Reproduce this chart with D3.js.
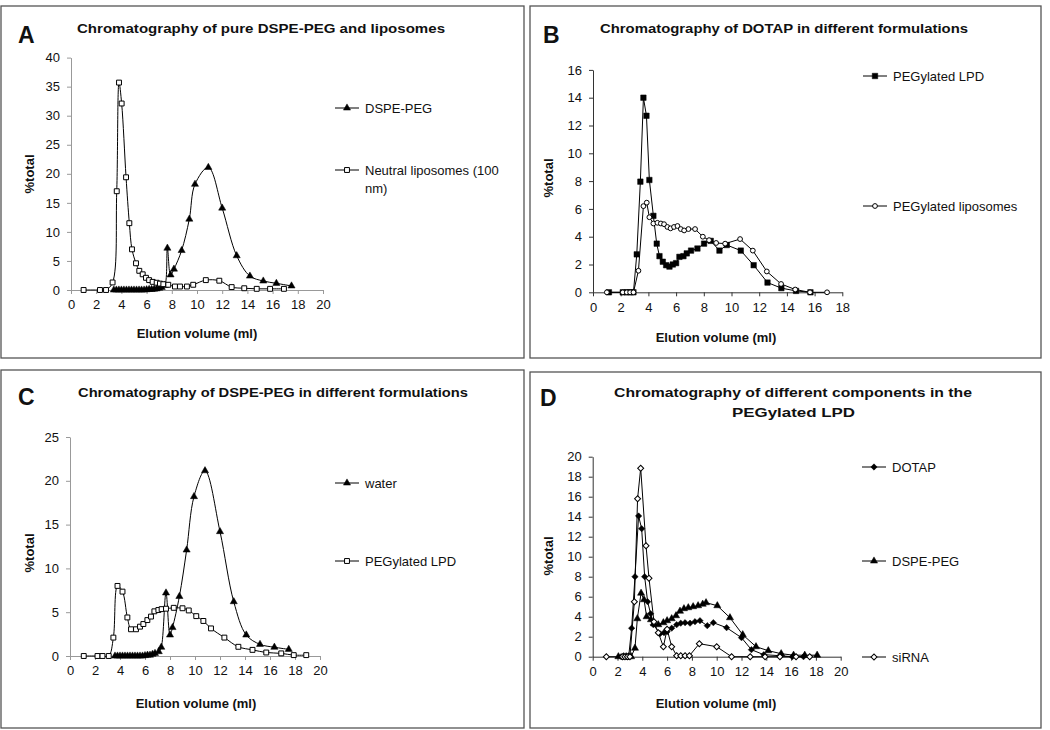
<!DOCTYPE html>
<html><head><meta charset="utf-8">
<script src="https://cdn.jsdelivr.net/npm/d3@7"></script>
<style>
body{margin:0;background:#fff;}
svg text{font-family:"Liberation Sans",Arial,sans-serif;fill:#111;}
</style>
</head><body>
<svg id="chart" width="1050" height="730"></svg>
<script>
// ---------- DATA ----------
// Panel A
const aTitle = "Chromatography of pure DSPE-PEG and liposomes";
const aXTicks = [0,2,4,6,8,10,12,14,16,18,20];
const aYTicks = [0,5,10,15,20,25,30,35,40];
const aPegX = [3.4,3.6,3.8,4.0,4.2,4.4,4.6,4.8,5.0,5.2,5.4,5.6,5.8,6.0,6.2,6.4,6.6,6.8,7.0,7.2,7.45,7.65,7.9,8.17,8.78,9.39,9.84,10.9,12.0,13.15,14.2,15.26,16.3,17.5];
const aPegY = [0,0,0,0,0,0,0,0,0,0,0,0,0,0.05,0.1,0.1,0.15,0.2,0.3,0.45,0.8,7.2,2.6,3.6,6.8,12.2,18.2,21.1,14.1,5.9,2.4,1.55,1.15,0.7];
const aLipX = [1,2.3,2.78,3.3,3.63,3.81,4.02,4.37,4.63,4.84,5.16,5.42,5.69,5.95,6.2,6.48,6.8,7.06,7.33,7.72,8.25,8.65,9.2,9.7,10.7,11.77,12.75,13.75,14.74,15.8,16.9];
const aLipY = [0,0,0,1.3,17.0,35.7,32.1,19.4,11.5,7.0,4.6,3.3,2.7,2.1,1.7,1.4,1.25,1.1,1.0,0.9,0.6,0.6,0.6,0.9,1.7,1.6,0.5,0.3,0.2,0.2,0.2];
const aLabels = ["DSPE-PEG", "Neutral liposomes (100|nm)"];

// Panel B
const bTitle = "Chromatography of DOTAP in different formulations";
const bXTicks = [0,2,4,6,8,10,12,14,16,18];
const bYTicks = [0,2,4,6,8,10,12,14,16];
const bLpdX = [1.15,2.15,2.44,2.68,2.92,3.16,3.42,3.64,3.86,4.07,4.36,4.6,4.8,5.04,5.28,5.52,5.76,6.0,6.24,6.53,6.77,7.08,7.54,8.02,8.5,9.13,9.66,10.67,11.6,12.6,13.6,14.66,15.7];
const bLpdY = [0,0,0,0,0,2.73,7.96,14.0,12.7,8.08,5.5,3.5,2.6,2.2,1.95,1.85,2.0,2.1,2.55,2.6,2.8,3.0,3.15,3.5,3.7,3.0,3.4,3.0,1.95,0.7,0.3,0.1,0];
const bLipX = [1.0,2.15,2.44,2.68,2.92,3.28,3.64,3.88,4.07,4.36,4.65,4.9,5.13,5.37,5.6,5.85,6.1,6.34,6.58,6.89,7.37,7.93,8.38,8.89,9.54,10.62,11.54,12.55,13.58,14.6,15.67,16.9];
const bLipY = [0,0,0,0,0,1.55,6.2,6.45,5.4,4.95,5.0,4.95,4.9,4.7,4.6,4.7,4.77,4.55,4.45,4.55,4.55,4.0,3.75,3.55,3.5,3.83,3.0,1.5,0.6,0.2,0,0];
const bLabels = ["PEGylated LPD", "PEGylated liposomes"];

// Panel C
const cTitle = "Chromatography of DSPE-PEG in different formulations";
const cXTicks = [0,2,4,6,8,10,12,14,16,18,20];
const cYTicks = [0,5,10,15,20,25];
const cWatX = [3.6,3.8,4.0,4.2,4.4,4.6,4.8,5.0,5.2,5.4,5.6,5.8,6.0,6.2,6.4,6.6,6.8,7.1,7.3,7.68,8.0,8.2,8.75,9.33,9.92,10.8,12.0,13.1,14.1,15.2,16.35,17.5];
const cWatY = [0,0,0,0,0,0,0,0,0,0,0,0,0.05,0.1,0.1,0.2,0.3,0.5,1.0,7.2,2.4,3.25,6.8,12.1,18.2,21.15,14.2,6.2,2.4,1.33,1.0,0.76];
const cLpdX = [1.1,2.2,2.6,3.1,3.47,3.8,4.2,4.59,4.88,5.28,5.6,5.87,6.19,6.48,6.75,7.07,7.33,7.68,8.3,9.0,9.5,10.1,10.67,11.28,12.35,13.47,14.6,15.7,16.9,17.9,18.9];
const cLpdY = [0,0,0,0,2.1,8.0,7.35,4.4,3.05,3.05,3.35,3.65,4.1,4.5,5.1,5.25,5.35,5.4,5.5,5.45,5.2,4.55,4.0,3.15,2.1,1.05,0.7,0.4,0.3,0.1,0.1];
const cLabels = ["water", "PEGylated LPD"];

// Panel D
const dTitle = ["Chromatography of different components in the", "PEGylated LPD"];
const dXTicks = [0,2,4,6,8,10,12,14,16,18,20];
const dYTicks = [0,2,4,6,8,10,12,14,16,18,20];
const dDotX = [2.3,2.5,2.7,2.9,3.14,3.41,3.7,3.95,4.19,4.43,4.67,4.89,5.43,5.75,6.0,6.37,6.77,7.1,7.45,7.85,8.25,8.65,9.24,9.73,10.8,12.0,12.8,13.8,15.1,16.1,17.0];
const dDotY = [0,0,0,0,2.85,8.0,14.07,12.8,8.0,5.5,4.3,3.2,2.3,2.4,2.5,2.85,3.2,3.35,3.4,3.35,3.5,3.6,3.1,3.4,2.9,1.9,0.7,0.2,0.1,0,0];
const dPegX = [2.07,2.5,2.7,2.9,3.1,3.41,3.6,3.9,4.14,4.35,4.7,4.94,5.29,5.7,6.0,6.37,6.72,7.04,7.36,7.71,8.1,8.5,8.87,9.14,10.05,11.07,12.1,13.17,14.16,15.2,16.2,17.1,18.1];
const dPegY = [0,0,0,0,0,0.85,3.8,6.35,5.7,4.0,3.7,3.3,3.2,3.4,3.6,3.8,4.1,4.55,4.8,4.9,5.0,5.1,5.25,5.4,5.1,3.9,2.2,1.0,0.6,0.3,0.15,0.15,0.15];
const dSiX = [1.1,2.4,2.6,2.8,3.0,3.36,3.62,3.87,4.3,4.54,4.94,5.29,5.7,6.0,6.37,6.77,7.1,7.45,7.8,8.6,10.0,11.2,12.7,13.9,15.1,16.4,17.5];
const dSiY = [0,0,0,0,0,5.5,15.8,18.85,11.1,7.85,3.5,2.4,1.0,2.75,1.0,0.1,0.1,0.1,0.1,1.3,1.0,0,0,0,0,0,0];
const dLabels = ["DOTAP", "DSPE-PEG", "siRNA"];

const xLabel = "Elution volume (ml)";
const yLabel = "%total";

// ---------- DRAWING ----------
const svg = d3.select("#chart");
const FONT = '"Liberation Sans", Arial, sans-serif';

function marker(sel, type) {
  if (type === "triUp") {
    sel.attr("d", d3.symbol(d3.symbolTriangle, 22)()).attr("fill", "#000").attr("stroke", "#000").attr("stroke-width", 0.5);
  } else if (type === "sqOpen") {
    sel.attr("d", d3.symbol(d3.symbolSquare, 24)()).attr("fill", "#fff").attr("stroke", "#000").attr("stroke-width", 1);
  } else if (type === "sqFill") {
    sel.attr("d", d3.symbol(d3.symbolSquare, 30)()).attr("fill", "#000").attr("stroke", "#000").attr("stroke-width", 0.5);
  } else if (type === "circOpen") {
    sel.attr("d", d3.symbol(d3.symbolCircle, 18)()).attr("fill", "#fff").attr("stroke", "#000").attr("stroke-width", 1);
  } else if (type === "diaFill") {
    sel.attr("d", d3.symbol(d3.symbolSquare, 20)()).attr("fill", "#000").attr("stroke", "#000").attr("stroke-width", 0.5);
  } else if (type === "diaOpen") {
    sel.attr("d", d3.symbol(d3.symbolSquare, 18)()).attr("fill", "#fff").attr("stroke", "#000").attr("stroke-width", 1);
  }
}

function drawPanel(p) {
  const g = svg.append("g");
  g.append("rect").attr("x", p.box[0]).attr("y", p.box[1]).attr("width", p.box[2]).attr("height", p.box[3])
    .attr("fill", "none").attr("stroke", "#555").attr("stroke-width", 1.3);
  g.append("text").attr("x", p.letterPos[0]).attr("y", p.letterPos[1]).text(p.letter)
    .attr("font-size", 23).attr("font-weight", "bold").attr("font-family", FONT);
  p.title.forEach((t, i) => {
    g.append("text").attr("x", p.titlePos[i][0]).attr("y", p.titlePos[i][1]).text(t)
      .attr("font-size", 13.5).attr("font-weight", "bold").attr("font-family", FONT)
      .attr("textLength", p.titlePos[i][2]).attr("lengthAdjust", "spacingAndGlyphs");
  });
  const x = d3.scaleLinear().domain(p.xDom).range(p.xRange);
  const y = d3.scaleLinear().domain(p.yDom).range(p.yRange);
  const xa = g.append("g").attr("transform", `translate(0,${p.yRange[0]})`)
    .call(d3.axisBottom(x).tickValues(p.xTicks).tickSize(4).tickSizeOuter(0).tickPadding(6));
  const ya = g.append("g").attr("transform", `translate(${p.xRange[0]},0)`)
    .call(d3.axisLeft(y).tickValues(p.yTicks).tickSize(4).tickSizeOuter(0).tickPadding(7));
  [xa, ya].forEach(a => {
    a.selectAll("path,line").attr("stroke", p.axisColor).attr("stroke-width", 1);
    a.selectAll("text").attr("font-size", 13).attr("font-family", FONT).attr("fill", "#111");
  });
  g.append("text").attr("x", p.xLabPos[0]).attr("y", p.xLabPos[1]).attr("text-anchor", "middle")
    .text(xLabel).attr("font-size", 13).attr("font-weight", "bold").attr("font-family", FONT);
  g.append("text").attr("transform", `translate(${p.yLabPos[0]},${p.yLabPos[1]}) rotate(-90)`)
    .attr("text-anchor", "middle").text(yLabel).attr("font-size", 13).attr("font-weight", "bold").attr("font-family", FONT);
  p.series.forEach(s => {
    const pts = s.x.map((v, i) => [v, s.y[i]]);
    const line = d3.line().x(d => x(d[0])).y(d => y(d[1])).curve(s.curve);
    g.append("path").attr("d", line(pts)).attr("fill", "none").attr("stroke", "#000").attr("stroke-width", 1);
    g.selectAll(null).data(pts).enter().append("path")
      .call(marker, s.marker)
      .attr("transform", d => `translate(${x(d[0])},${y(d[1])})` + (s.marker.startsWith("dia") ? " rotate(45)" : ""));
  });
  p.series.forEach((s, i) => {
    const lp = p.legend[i];
    g.append("line").attr("x1", lp[0]).attr("x2", lp[0] + 24).attr("y1", lp[1]).attr("y2", lp[1])
      .attr("stroke", "#000").attr("stroke-width", 1);
    g.append("path").call(marker, s.marker)
      .attr("transform", `translate(${lp[0] + 12},${lp[1]})` + (s.marker.startsWith("dia") ? " rotate(45)" : ""));
    const lines = s.label.split("|");
    lines.forEach((t, j) => {
      g.append("text").attr("x", lp[0] + 30).attr("y", lp[1] + 4.5 + j * 18).text(t)
        .attr("font-size", 13).attr("font-family", FONT);
    });
  });
}

const smooth = d3.curveCatmullRom.alpha(0.5);
const straight = d3.curveLinear;

drawPanel({
  box: [1, 6, 523, 352], letter: "A", letterPos: [18, 43],
  title: [aTitle], titlePos: [[77, 33, 368]],
  xDom: [0, 20], xRange: [71, 323], yDom: [0, 40], yRange: [290, 57.6],
  xTicks: aXTicks, yTicks: aYTicks, axisColor: "#999",
  xLabPos: [197, 338], yLabPos: [34, 174],
  series: [
    {x: aPegX, y: aPegY, marker: "triUp", curve: smooth, label: aLabels[0]},
    {x: aLipX, y: aLipY, marker: "sqOpen", curve: smooth, label: aLabels[1]}
  ],
  legend: [[335, 108], [335, 170]]
});

drawPanel({
  box: [530, 6, 511, 352], letter: "B", letterPos: [543, 43],
  title: [bTitle], titlePos: [[600, 33, 368]],
  xDom: [0, 18], xRange: [593, 842.3], yDom: [0, 16], yRange: [292.3, 69.9],
  xTicks: bXTicks, yTicks: bYTicks, axisColor: "#333",
  xLabPos: [716, 342], yLabPos: [553, 178],
  series: [
    {x: bLpdX, y: bLpdY, marker: "sqFill", curve: straight, label: bLabels[0]},
    {x: bLipX, y: bLipY, marker: "circOpen", curve: straight, label: bLabels[1]}
  ],
  legend: [[863, 76], [863, 206]]
});

drawPanel({
  box: [1, 370, 523, 358], letter: "C", letterPos: [18, 405],
  title: [cTitle], titlePos: [[78, 397, 390]],
  xDom: [0, 20], xRange: [70, 320], yDom: [0, 25], yRange: [656, 437],
  xTicks: cXTicks, yTicks: cYTicks, axisColor: "#999",
  xLabPos: [196, 708], yLabPos: [34, 553],
  series: [
    {x: cWatX, y: cWatY, marker: "triUp", curve: smooth, label: cLabels[0]},
    {x: cLpdX, y: cLpdY, marker: "sqOpen", curve: smooth, label: cLabels[1]}
  ],
  legend: [[335, 483], [335, 561]]
});

drawPanel({
  box: [530, 372, 511, 356], letter: "D", letterPos: [540, 406],
  title: dTitle, titlePos: [[614, 397, 358], [732, 417, 123]],
  xDom: [0, 20], xRange: [592.7, 840.7], yDom: [0, 20], yRange: [656.7, 456.7],
  xTicks: dXTicks, yTicks: dYTicks, axisColor: "#333",
  xLabPos: [716, 708], yLabPos: [553, 556],
  series: [
    {x: dDotX, y: dDotY, marker: "diaFill", curve: straight, label: dLabels[0]},
    {x: dPegX, y: dPegY, marker: "triUp", curve: straight, label: dLabels[1]},
    {x: dSiX, y: dSiY, marker: "diaOpen", curve: straight, label: dLabels[2]}
  ],
  legend: [[862, 467], [862, 561], [862, 657]]
});
</script>
</body></html>
